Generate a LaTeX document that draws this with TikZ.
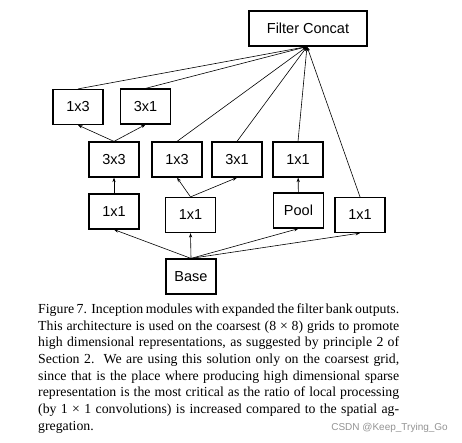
\documentclass[tikz,border=0pt]{standalone}
\usepackage{fontspec}
\setmainfont{Liberation Serif}
\newfontfamily\boxfont{Liberation Sans}
\usetikzlibrary{arrows.meta}
\begin{document}
\begin{tikzpicture}[x=1pt,y=-1pt,
  blk/.style={draw,line width=1.2pt,minimum width=50pt,minimum height=35pt,inner sep=0pt,
    font=\boxfont\fontsize{14.5}{17}\selectfont},
  conn/.style={line width=0.6pt,-{Stealth[length=4.5pt,width=3.2pt]}}]
\useasboundingbox (0,0) rectangle (462,442);
\fill[white] (0,0) rectangle (462,442);
% nodes
\node[blk,minimum width=118pt] (concat) at (308,28.5) {Filter Concat};
\node[blk] (a13) at (78,107) {1x3};
\node[blk] (a31) at (145.5,106.5) {3x1};
\node[blk] (b33) at (114,159.5) {3x3};
\node[blk] (b13) at (177,159.5) {1x3};
\node[blk] (b31) at (237,159.5) {3x1};
\node[blk] (b11) at (298,159.5) {1x1};
\node[blk] (c11L) at (114,211.5) {1x1};
\node[blk] (c11M) at (190.5,215) {1x1};
\node[blk] (pool) at (298.5,210.5) {Pool};
\node[blk] (c11R) at (360,215) {1x1};
\node[blk] (base) at (191,276.5) {Base};
\coordinate (cin) at ([xshift=-1pt]concat.south);
% connectors
\foreach \n in {c11L,c11M,pool,c11R} \draw[conn] (base.north) -- (\n.south);
\draw[conn] (c11L) -- (b33);
\draw[conn] (pool) -- (b11);
\draw[conn] (c11M.north) -- (b13.south);
\draw[conn] (c11M.north) -- (b31.south);
\draw[conn] (b33.north) -- (a13.south);
\draw[conn] (b33.north) -- (a31.south);
\foreach \n in {a13,a31,b13,b31,b11,c11R} \draw[conn] (\n.north) -- (cin);
% caption
\node[anchor=north west,inner sep=0pt,text width=361pt,align=justify,
  font=\fontsize{13.8}{16.7}\selectfont] (cap) at (38,303.4)
{Figure 7. Inception modules with expanded the filter bank outputs.\linebreak
This architecture is used on the coarsest (8 × 8) grids to promote\linebreak
high dimensional representations, as suggested by principle 2 of\linebreak
Section 2.\ \ We are using this solution only on the coarsest grid,\linebreak
since that is the place where producing high dimensional sparse\linebreak
representation is the most critical as the ratio of local processing\linebreak
(by 1 × 1 convolutions) is increased compared to the spatial ag-\linebreak
gregation.};
\node[anchor=base east,inner sep=0pt,text=black!42,font=\boxfont\fontsize{10}{12}\selectfont]
  (wm) at (448,430.7) {CSDN @Keep\_Trying\_Go};
\end{tikzpicture}
\end{document}
